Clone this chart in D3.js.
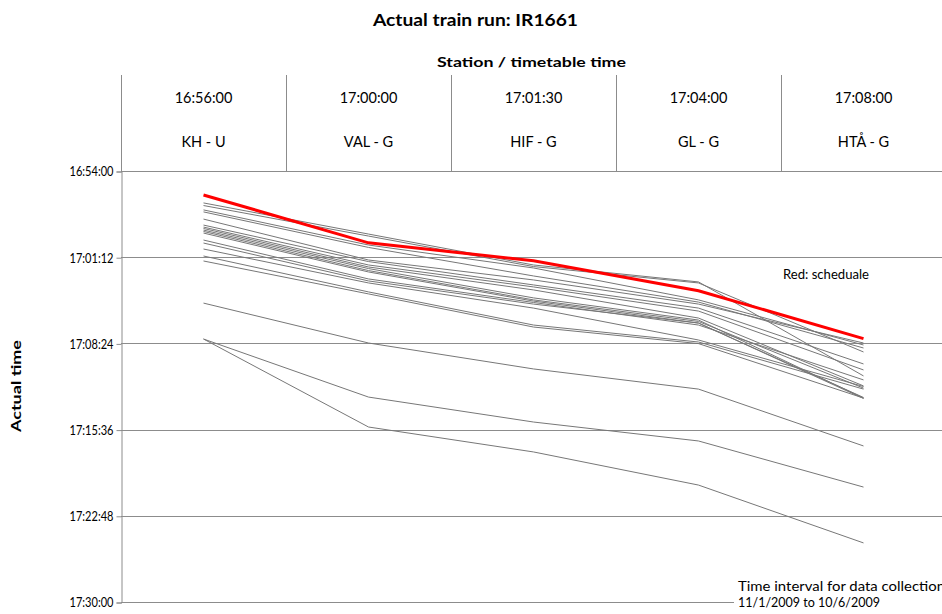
<!DOCTYPE html>
<html>
<head>
<meta charset="utf-8">
<script src="https://cdn.jsdelivr.net/npm/d3@7"></script>
<style>
  body { margin: 0; background: #fff; }
  svg { display: block; font-family: Lato, "Open Sans", sans-serif; }
</style>
</head>
<body>
<div id="chart"></div>
<script>
'use strict';

var stations = ['KH - U', 'VAL - G', 'HIF - G', 'GL - G', 'HTÅ - G'];
var timetable = ['16:56:00', '17:00:00', '17:01:30', '17:04:00', '17:08:00'];

// actual runs, one row per day
var runs = [
    ['16:56:40', '16:59:16', '17:01:51', '17:03:16', '17:11:07'],
    ['16:56:53', '16:59:26', '17:01:59', '17:03:21', '17:09:07'],
    ['16:57:15', '17:00:11', '17:02:06', '17:04:46', '17:08:32'],
    ['16:57:25', '17:00:23', '17:02:46', '17:04:57', '17:08:47'],
    ['16:58:01', '17:01:26', '17:03:06', '17:05:07', '17:08:22'],
    ['16:58:31', '17:01:34', '17:03:31', '17:05:27', '17:10:07'],
    ['16:58:41', '17:01:51', '17:03:41', '17:05:42', '17:10:37'],
    ['16:58:48', '17:02:01', '17:03:56', '17:06:17', '17:11:57'],
    ['16:58:56', '17:02:09', '17:04:36', '17:06:27', '17:12:58'],
    ['16:59:03', '17:02:19', '17:04:46', '17:06:34', '17:12:08'],
    ['16:59:11', '17:02:26', '17:04:52', '17:06:42', '17:12:55'],
    ['16:59:46', '17:03:01', '17:04:59', '17:06:52', '17:11:27'],
    ['17:00:01', '17:03:11', '17:05:07', '17:06:42', '17:13:00'],
    ['17:00:31', '17:03:21', '17:05:27', '17:08:07', '17:12:00'],
    ['17:01:06', '17:04:06', '17:06:52', '17:08:17', '17:12:13'],
    ['17:01:31', '17:04:16', '17:07:02', '17:08:25', '17:12:58'],
    ['17:05:02', '17:08:22', '17:10:32', '17:12:13', '17:16:58'],
    ['17:08:02', '17:12:53', '17:14:58', '17:16:33', '17:20:24'],
    ['17:08:02', '17:15:23', '17:17:28', '17:20:14', '17:25:04']
];

var yStart = '16:54:00',
    yEnd = '17:30:00',
    yStepSec = 432;

var width = 942,
    height = 614,
    plot_left = 121,
    plot_right = 946,
    plot_top = 171,
    plot_bottom = 602,
    header_top = 75;

var parse = d3.timeParse('%H:%M:%S');
var fmt = d3.timeFormat('%H:%M:%S');

var svg = d3.select('#chart').append('svg')
    .attr('width', width)
    .attr('height', height);

var x = d3.scaleBand().domain(stations).range([plot_left, plot_right]);
var y = d3.scaleTime().domain([parse(yStart), parse(yEnd)]).range([plot_top, plot_bottom]);

var t0 = parse(yStart).getTime();
var yTicks = d3.range(0, 6).map(function(i) {
    return new Date(t0 + i * yStepSec * 1000);
});

// the original is a stretched excel picture, so text is fitted to its width
var label = function(sel, px, py, size, len, bold) {
    return sel.append('text')
        .attr('x', px)
        .attr('y', py)
        .attr('font-size', size)
        .attr('font-weight', bold ? 'bold' : 'normal')
        .attr('textLength', len)
        .attr('lengthAdjust', 'spacingAndGlyphs');
};

label(svg, 373, 26, 17, 205, true).text('Actual train run: IR1661');
label(svg, 437, 67, 14, 189, true).text('Station /  timetable time');

// gridlines
svg.append('g').selectAll('line').data(yTicks)
    .enter().append('line')
    .attr('x1', plot_left)
    .attr('x2', width)
    .attr('y1', function(d) { return Math.round(y(d)) + 0.5; })
    .attr('y2', function(d) { return Math.round(y(d)) + 0.5; })
    .style('stroke', '#8c8c8c')
    .style('stroke-width', 1);

// y axis
var yAxis = d3.axisLeft(y)
    .tickValues(yTicks)
    .tickFormat(fmt)
    .tickSize(5)
    .tickPadding(3);

var ya = svg.append('g')
    .attr('transform', 'translate(' + (plot_left + 0.5) + ',0.5)')
    .call(yAxis);
ya.select('.domain').style('stroke', '#8c8c8c');
ya.selectAll('.tick line').style('stroke', '#8c8c8c');
ya.selectAll('.tick text')
    .attr('font-family', 'Lato, sans-serif')
    .attr('font-size', 13.5)
    .attr('textLength', 44)
    .attr('lengthAdjust', 'spacingAndGlyphs')
    .style('fill', '#000');

label(svg.append('g').attr('transform', 'translate(21,432) rotate(-90)'), 0, 0, 13, 92, true)
    .text('Actual time');

// header columns
var head = svg.append('g');
head.selectAll('line').data(stations)
    .enter().append('line')
    .attr('x1', function(d) { return Math.round(x(d)) + 0.5; })
    .attr('x2', function(d) { return Math.round(x(d)) + 0.5; })
    .attr('y1', header_top)
    .attr('y2', plot_top)
    .style('stroke', '#8c8c8c');

head.selectAll('.tt').data(timetable)
    .enter().append('text')
    .attr('class', 'tt')
    .attr('x', function(d, i) { return x(stations[i]) + x.bandwidth() / 2; })
    .attr('y', 103)
    .attr('text-anchor', 'middle')
    .attr('font-size', 14.5)
    .text(function(d) { return d; });

head.selectAll('.st').data(stations)
    .enter().append('text')
    .attr('class', 'st')
    .attr('x', function(d) { return x(d) + x.bandwidth() / 2; })
    .attr('y', 147)
    .attr('text-anchor', 'middle')
    .attr('font-size', 14.5)
    .text(function(d) { return d; });

// lines
var line = d3.line()
    .x(function(d, i) { return x(stations[i]) + x.bandwidth() / 2; })
    .y(function(d) { return y(parse(d)); });

svg.append('g').selectAll('path').data(runs)
    .enter().append('path')
    .attr('d', line)
    .style('fill', 'none')
    .style('stroke', '#777')
    .style('stroke-width', 1);

svg.append('path')
    .datum(timetable)
    .attr('d', line)
    .style('fill', 'none')
    .style('stroke', '#ff0000')
    .style('stroke-width', 3);

label(svg, 783, 279, 13, 86, false).text('Red:  scheduale');

// note box
svg.append('rect')
    .attr('x', 734)
    .attr('y', 574)
    .attr('width', 210)
    .attr('height', 40)
    .style('fill', '#fff');

label(svg, 738, 591, 13, 207, false).text('Time interval for data collection');
label(svg, 738, 607, 13, 142, false).text('11/1/2009 to 10/6/2009');
</script>
</body>
</html>
